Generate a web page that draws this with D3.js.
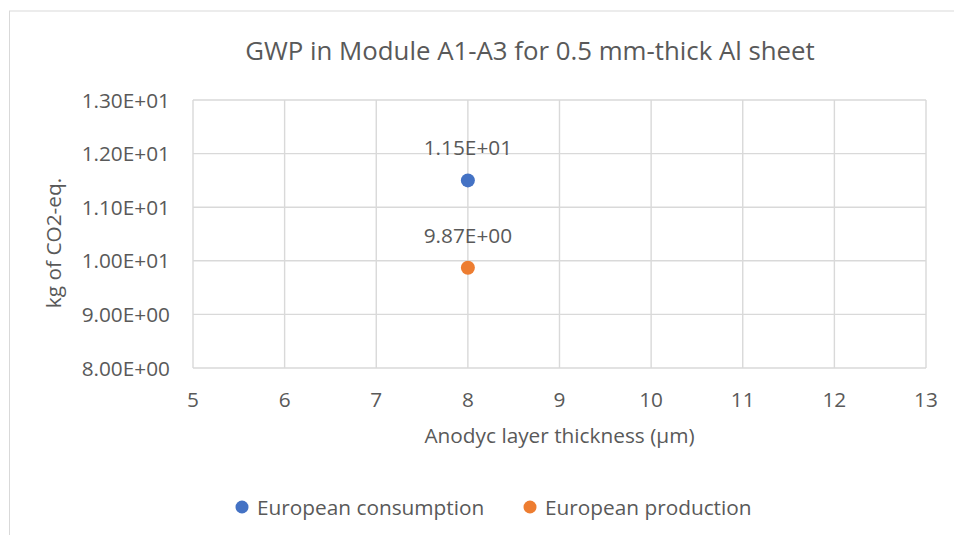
<!DOCTYPE html>
<html>
<head>
<meta charset="utf-8">
<script src="https://cdn.jsdelivr.net/npm/d3@7"></script>
<style>
  body { margin: 0; background: #fff; }
  text { font-family: "Open Sans", sans-serif; fill: #595959; }
</style>
</head>
<body>
<div id="chart"></div>
<script>
const width = 954;
const height = 535;

// data
const seriesNames = ['European consumption', 'European production'];
const seriesColors = ['#4472C4', '#ED7D31'];
const xValues = [8, 8];
const yValues = [11.5, 9.87];
const pointLabels = ['1.15E+01', '9.87E+00'];
const xTicks = [5, 6, 7, 8, 9, 10, 11, 12, 13];
const yTicks = [8, 9, 10, 11, 12, 13];
const yTickLabels = ['8.00E+00', '9.00E+00', '1.00E+01', '1.10E+01', '1.20E+01', '1.30E+01'];

const title = 'GWP in Module A1-A3 for 0.5 mm-thick Al sheet';
const xTitle = 'Anodyc layer thickness (µm)';
const yTitle = 'kg of CO2-eq.';

const plot = { left: 193, right: 926, top: 100, bottom: 368 };
const fs = '20.8px';

const x = d3.scaleLinear().domain([5, 13]).range([plot.left, plot.right]);
const y = d3.scaleLinear().domain([8, 13]).range([plot.bottom, plot.top]);

const svg = d3.select('#chart')
    .append('svg')
    .attr('width', width)
    .attr('height', height);

// chart frame
svg.append('rect')
    .attr('x', 9.5)
    .attr('y', 11)
    .attr('width', width + 10)
    .attr('height', height + 10)
    .style('fill', 'none')
    .style('stroke', '#d9d9d9')
    .style('stroke-width', 1);

// title
svg.append('text')
    .attr('x', 530)
    .attr('y', 60)
    .attr('text-anchor', 'middle')
    .style('font-size', '25.8px')
    .text(title);

// gridlines
const grid = svg.append('g')
    .style('stroke', '#d9d9d9')
    .style('stroke-width', 1.4);

grid.selectAll('.vgrid')
    .data(xTicks)
    .join('line')
    .attr('x1', d => x(d))
    .attr('x2', d => x(d))
    .attr('y1', plot.top)
    .attr('y2', plot.bottom);

grid.selectAll('.hgrid')
    .data(yTicks)
    .join('line')
    .attr('x1', plot.left)
    .attr('x2', plot.right)
    .attr('y1', d => y(d))
    .attr('y2', d => y(d));

// x axis labels
svg.append('g')
    .selectAll('text')
    .data(xTicks)
    .join('text')
    .attr('x', d => x(d))
    .attr('y', 407)
    .attr('text-anchor', 'middle')
    .style('font-size', fs)
    .text(d => d);

// y axis labels
svg.append('g')
    .selectAll('text')
    .data(yTicks)
    .join('text')
    .attr('x', 170)
    .attr('y', d => y(d) + 7.5)
    .attr('text-anchor', 'end')
    .style('font-size', fs)
    .text((d, i) => yTickLabels[i]);

// axis titles
svg.append('text')
    .attr('x', x(9))
    .attr('y', 443)
    .attr('text-anchor', 'middle')
    .style('font-size', fs)
    .text(xTitle);

svg.append('text')
    .attr('transform', 'translate(61,243) rotate(-90)')
    .attr('text-anchor', 'middle')
    .style('font-size', fs)
    .text(yTitle);

// points
const pts = svg.append('g');
pts.selectAll('circle')
    .data(yValues)
    .join('circle')
    .attr('cx', (d, i) => x(xValues[i]))
    .attr('cy', d => y(d))
    .attr('r', 7)
    .style('fill', (d, i) => seriesColors[i]);

pts.selectAll('text')
    .data(yValues)
    .join('text')
    .attr('x', (d, i) => x(xValues[i]))
    .attr('y', d => y(d) - 25)
    .attr('text-anchor', 'middle')
    .style('font-size', fs)
    .text((d, i) => pointLabels[i]);

// legend
const legendX = [242, 530];
const legend = svg.append('g')
    .selectAll('g')
    .data(seriesNames)
    .join('g')
    .attr('transform', (d, i) => `translate(${legendX[i]},507)`);

legend.append('circle')
    .attr('r', 6.5)
    .style('fill', (d, i) => seriesColors[i]);

legend.append('text')
    .attr('x', 15)
    .attr('y', 7.5)
    .style('font-size', fs)
    .text(d => d);
</script>
</body>
</html>
